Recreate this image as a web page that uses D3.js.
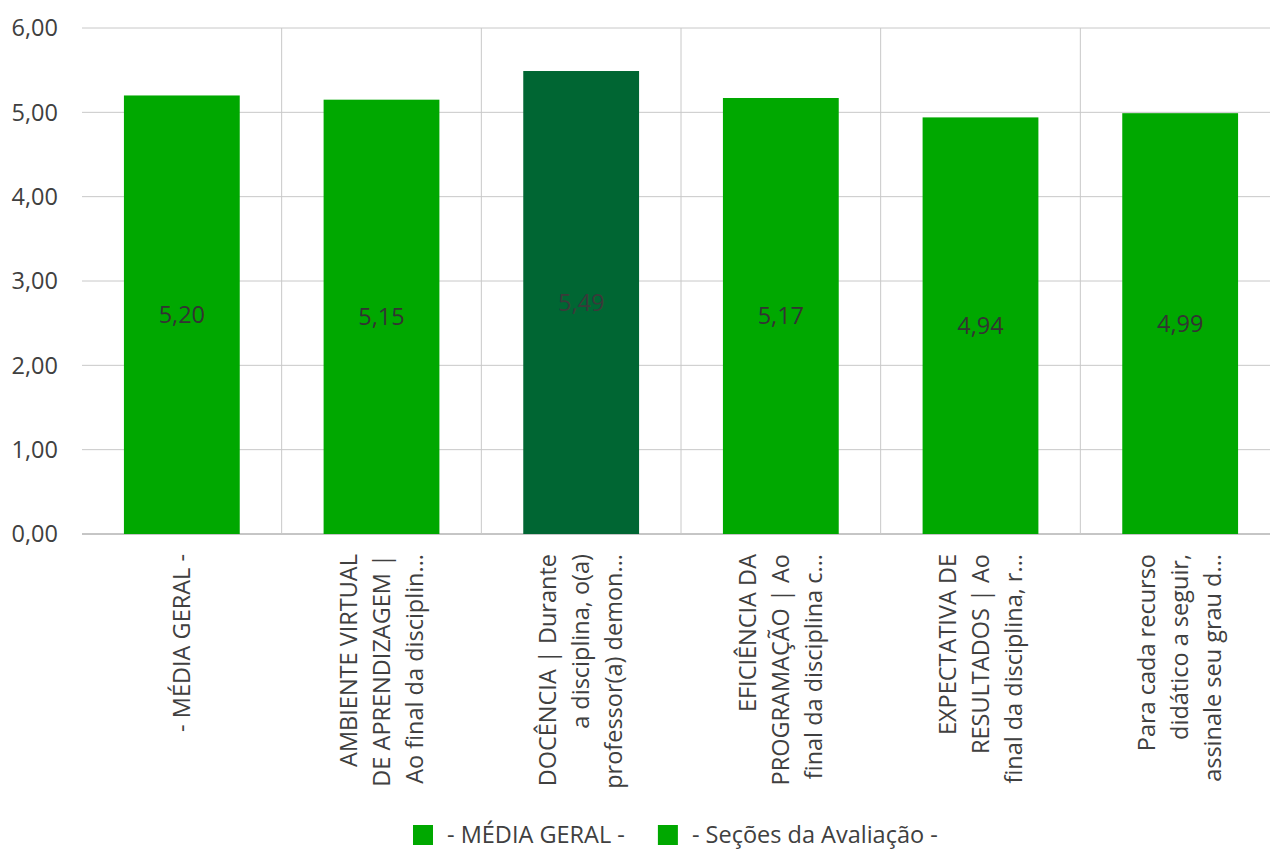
<!DOCTYPE html>
<html>
<head>
<meta charset="utf-8">
<script src="https://cdnjs.cloudflare.com/ajax/libs/d3/7.8.5/d3.min.js"></script>
<style>
    body { margin: 0; background: #fff; }
    svg { font-family: "Open Sans", "Noto Sans", sans-serif; }
</style>
</head>
<body>
<div id="chart"></div>
<script>
const categories = [
    ['- MÉDIA GERAL -'],
    ['AMBIENTE VIRTUAL', 'DE APRENDIZAGEM |', 'Ao final da disciplin...'],
    ['DOCÊNCIA | Durante', 'a disciplina, o(a)', 'professor(a) demon...'],
    ['EFICIÊNCIA DA', 'PROGRAMAÇÃO | Ao', 'final da disciplina c...'],
    ['EXPECTATIVA DE', 'RESULTADOS | Ao', 'final da disciplina, r...'],
    ['Para cada recurso', 'didático a seguir,', 'assinale seu grau d...']
];
const values = [5.20, 5.15, 5.49, 5.17, 4.94, 4.99];
const highlight = [false, false, true, false, false, false];
const yTicks = [0, 1, 2, 3, 4, 5, 6];
const legendItems = ['- MÉDIA GERAL -', '- Seções da Avaliação -'];

const width = 1270, height = 850;
const margin = {top: 28, right: -10, bottom: 316, left: 82};
const GREEN = '#00a800', DARK = '#006633';
const FS = 23.5;
const fmt = v => d3.format('.2f')(v).replace('.', ',');

const svg = d3.select('#chart').append('svg')
    .attr('width', width).attr('height', height);

const x = d3.scaleBand()
    .domain(d3.range(categories.length))
    .range([margin.left, width - margin.right])
    .paddingInner(0.42).paddingOuter(0.21);
const step = x.step();

const y = d3.scaleLinear()
    .domain([0, 6])
    .range([height - margin.bottom, margin.top]);

// horizontal grid + y labels
const g = svg.append('g');
g.selectAll('line.h').data(yTicks).join('line')
    .attr('class', 'h')
    .attr('x1', margin.left).attr('x2', width - margin.right)
    .attr('y1', d => y(d)).attr('y2', d => y(d))
    .attr('stroke', d => d === 0 ? '#8c8c8c' : '#c8c8c8')
    .attr('stroke-width', 1);
g.selectAll('text.yl').data(yTicks).join('text')
    .attr('class', 'yl')
    .attr('x', 58).attr('y', d => y(d))
    .attr('dy', '0.35em')
    .attr('text-anchor', 'end')
    .attr('font-size', FS)
    .attr('fill', '#404040')
    .text(fmt);

// vertical separators between categories
g.selectAll('line.v').data(d3.range(1, categories.length)).join('line')
    .attr('class', 'v')
    .attr('x1', i => x(i) - step * 0.21).attr('x2', i => x(i) - step * 0.21)
    .attr('y1', y(6)).attr('y2', y(0))
    .attr('stroke', '#c8c8c8');

// bars
svg.selectAll('rect.bar').data(values).join('rect')
    .attr('class', 'bar')
    .attr('x', (d, i) => x(i))
    .attr('width', x.bandwidth())
    .attr('y', d => y(d))
    .attr('height', d => y(0) - y(d))
    .attr('fill', (d, i) => highlight[i] ? DARK : GREEN);

// value labels
svg.selectAll('text.val').data(values).join('text')
    .attr('class', 'val')
    .attr('x', (d, i) => x(i) + x.bandwidth() / 2)
    .attr('y', d => (y(d) + y(0)) / 2)
    .attr('dy', '0.35em')
    .attr('text-anchor', 'middle')
    .attr('font-size', FS)
    .attr('fill', (d, i) => highlight[i] ? '#3a3a3a' : '#333')
    .text(fmt);

// category labels, rotated
const lineH = 33;
const cat = svg.selectAll('g.cat').data(categories).join('g')
    .attr('class', 'cat')
    .attr('transform', (d, i) => `translate(${x(i) + x.bandwidth() / 2},${y(0) + 20}) rotate(-90)`);
cat.each(function(lines) {
    const n = lines.length;
    d3.select(this).selectAll('text').data(lines).join('text')
        .attr('x', 0)
        .attr('y', (d, j) => (j - (n - 1) / 2) * lineH)
        .attr('dy', '0.35em')
        .attr('text-anchor', 'end')
        .attr('font-size', FS)
        .attr('fill', '#404040')
        .text(d => d);
});

// legend
const legend = svg.append('g').attr('transform', `translate(0,${835})`);
let lx = 413;
legendItems.forEach(t => {
    legend.append('rect').attr('x', lx).attr('y', -10).attr('width', 20).attr('height', 20).attr('fill', GREEN);
    const tx = legend.append('text').attr('x', lx + 34).attr('y', 0).attr('dy', '0.35em')
        .attr('font-size', FS).attr('fill', '#404040').text(t);
    lx += 34 + tx.node().getComputedTextLength() + 33;
});
</script>
</body>
</html>
